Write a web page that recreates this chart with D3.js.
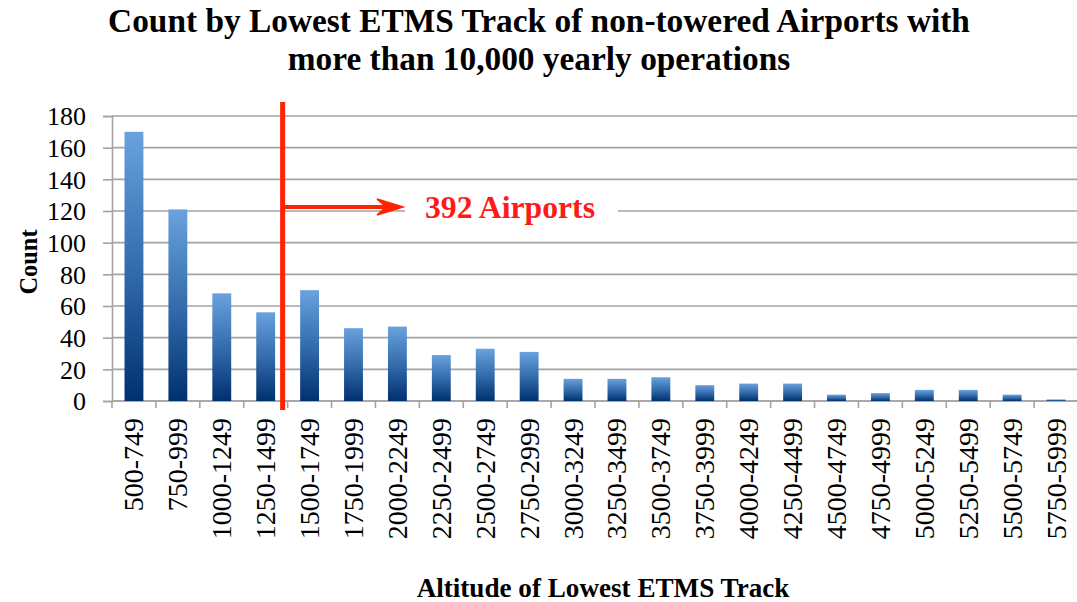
<!DOCTYPE html>
<html><head><meta charset="utf-8">
<script src="https://cdn.jsdelivr.net/npm/d3@7"></script>
<style>body{margin:0;background:#fff;} svg{display:block;font-family:"Liberation Serif","Times New Roman",serif;}</style>
</head><body>
<svg id="c" width="1077" height="602"></svg>
<script>
const categories = ["500-749","750-999","1000-1249","1250-1499","1500-1749","1750-1999","2000-2249","2250-2499","2500-2749","2750-2999","3000-3249","3250-3499","3500-3749","3750-3999","4000-4249","4250-4499","4500-4749","4750-4999","5000-5249","5250-5499","5500-5749","5750-5999"];
const counts = [170,121,68,56,70,46,47,29,33,31,14,14,15,10,11,11,4,5,7,7,4,1];
const yTicks = [0,20,40,60,80,100,120,140,160,180];
const titleLines = ["Count by Lowest ETMS Track of non-towered Airports with","more than 10,000 yearly operations"];
const annotationText = "392 Airports";
const annotationValue = 122.5;
const xTitle = "Altitude of Lowest ETMS Track";
const yTitle = "Count";

const svg = d3.select("#c");
const L = 112, R = 1078, T = 116, B = 401;
const x = d3.scaleBand().domain(categories).range([L, R]).paddingInner(0.57).paddingOuter(0.285);
const y = d3.scaleLinear().domain([0, 180]).range([B, T]);

const defs = svg.append("defs");
const g = defs.append("linearGradient").attr("id","bg").attr("x1",0).attr("y1",0).attr("x2",0).attr("y2",1);
g.append("stop").attr("offset","0%").attr("stop-color","#69a2de");
g.append("stop").attr("offset","55%").attr("stop-color","#2f67a8");
g.append("stop").attr("offset","100%").attr("stop-color","#00306f");

// gridlines
svg.append("g").selectAll("line").data(yTicks).join("line")
  .attr("x1", L).attr("x2", 1077).attr("y1", d=>y(d)).attr("y2", d=>y(d))
  .attr("stroke", "#a3a3a3").attr("stroke-width", 1.6);

// y axis
const ya = svg.append("g").attr("transform", `translate(${L},0)`)
  .call(d3.axisLeft(y).tickValues(yTicks).tickSize(9).tickPadding(17));
ya.select(".domain").attr("stroke","#a3a3a3").attr("stroke-width",1.6);
ya.selectAll(".tick line").attr("stroke","#a3a3a3").attr("stroke-width",1.6);
ya.selectAll("text").attr("font-family","Liberation Serif").attr("font-size",26).attr("fill","#000").attr("dy","0.34em");

// x axis baseline & ticks at band boundaries
const step = x.step();
const bounds = d3.range(categories.length + 1).map(i => L + i * step);
svg.append("line").attr("x1", L).attr("x2", 1077).attr("y1", B).attr("y2", B).attr("stroke","#a3a3a3").attr("stroke-width",1.6);
svg.append("g").selectAll("line").data(bounds).join("line")
  .attr("x1", d=>d).attr("x2", d=>d).attr("y1", B).attr("y2", B + 7)
  .attr("stroke","#a3a3a3").attr("stroke-width",1.6);

// x labels
svg.append("g").selectAll("text").data(categories).join("text")
  .attr("transform", d => `translate(${x(d) + x.bandwidth()/2},418) rotate(-90)`)
  .attr("text-anchor","end").attr("dy","0.34em")
  .attr("font-size", 28).attr("fill","#000").text(d=>d);

// bars
svg.append("g").selectAll("rect").data(counts).join("rect")
  .attr("x", (d,i)=>x(categories[i])).attr("width", x.bandwidth())
  .attr("y", d=>y(d)).attr("height", d=>B - y(d))
  .attr("fill","url(#bg)");

// annotation
const vx = bounds[4] - 5;
const ay = y(annotationValue);
svg.append("rect").attr("x",405).attr("y",181).attr("width",213).attr("height",55).attr("fill","#fff");
svg.append("line").attr("x1",vx).attr("x2",vx).attr("y1",102).attr("y2",410).attr("stroke","#ff2200").attr("stroke-width",5);
svg.append("line").attr("x1",vx).attr("x2",392).attr("y1",ay).attr("y2",ay).attr("stroke","#ff2200").attr("stroke-width",4);
svg.append("path").attr("d",`M403,${ay} L377,${ay-8} L386,${ay} L377,${ay+8} Z`).attr("fill","#ff2200").attr("stroke","#ff2200").attr("stroke-width",1.5).attr("stroke-linejoin","miter");

function fit(sel, w){ const n = sel.node(); const l = n.getComputedTextLength(); const fs = +sel.attr("font-size"); sel.attr("font-size", fs * w / l); return fs*w/l; }

const at = svg.append("text").attr("x",510).attr("y",218).attr("text-anchor","middle")
  .attr("font-weight","bold").attr("font-size",30).attr("fill","#ff1a1a").text(annotationText);
fit(at, 170);

// titles
const t1 = svg.append("text").attr("x",539).attr("y",32).attr("text-anchor","middle").attr("font-weight","bold").attr("font-size",28).text(titleLines[0]);
const fs = fit(t1, 862);
svg.append("text").attr("x",539).attr("y",70).attr("text-anchor","middle").attr("font-weight","bold").attr("font-size",fs).text(titleLines[1]);

const xt = svg.append("text").attr("x",603).attr("y",597).attr("text-anchor","middle").attr("font-weight","bold").attr("font-size",24).text(xTitle);
fit(xt, 373);
const yt = svg.append("text").attr("transform","translate(28,262) rotate(-90)").attr("text-anchor","middle").attr("dy","0.35em").attr("font-weight","bold").attr("font-size",24).text(yTitle);
fit(yt, 65);
</script>
</body></html>
